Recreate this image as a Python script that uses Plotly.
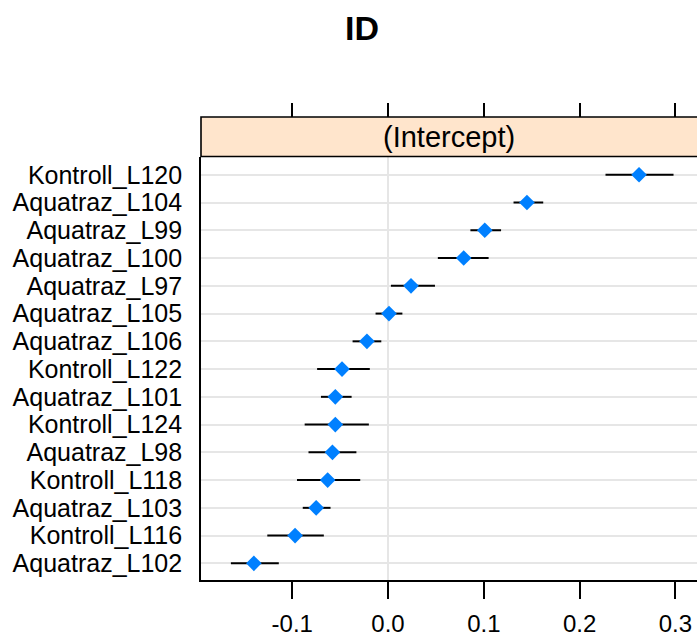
import plotly.graph_objects as go

# Data (listed top -> bottom as drawn)
labels = ["Kontroll_L120", "Aquatraz_L104", "Aquatraz_L99", "Aquatraz_L100",
          "Aquatraz_L97", "Aquatraz_L105", "Aquatraz_L106", "Kontroll_L122",
          "Aquatraz_L101", "Kontroll_L124", "Aquatraz_L98", "Kontroll_L118",
          "Aquatraz_L103", "Kontroll_L116", "Aquatraz_L102"]
estimate = [0.262, 0.145, 0.101, 0.079, 0.024, 0.001, -0.022, -0.048,
            -0.055, -0.055, -0.058, -0.063, -0.075, -0.097, -0.140]
lower = [0.227, 0.131, 0.086, 0.052, 0.003, -0.013, -0.037, -0.074,
         -0.070, -0.087, -0.083, -0.095, -0.089, -0.126, -0.164]
upper = [0.298, 0.162, 0.118, 0.105, 0.049, 0.015, -0.007, -0.019,
         -0.038, -0.020, -0.033, -0.029, -0.060, -0.067, -0.114]
x_ticks = [-0.1, 0.0, 0.1, 0.2, 0.3]
x_tick_text = ["-0.1", "0.0", "0.1", "0.2", "0.3"]
strip_label = "(Intercept)"
title_text = "ID"

n = len(labels)
ypos = [n - i for i in range(n)]
err_plus = [u - e for u, e in zip(upper, estimate)]
err_minus = [e - l for e, l in zip(estimate, lower)]

FONT = "Liberation Sans, Arial, sans-serif"
W, H = 697, 636
left, right, top, bottom = 201, 0, 117, 56
plot_h = H - top - bottom
plot_w = W - left - right
panel_top_px = 156.5
dom_top = (H - bottom - panel_top_px) / plot_h

xr = [-0.1952, 0.3225]

fig = go.Figure()
fig.add_trace(go.Scatter(
    x=estimate, y=ypos, mode="markers",
    marker=dict(symbol="diamond", size=12, color="#0080FF", line=dict(width=0)),
    error_x=dict(type="data", symmetric=False, array=err_plus, arrayminus=err_minus,
                 color="black", thickness=2, width=0),
    hoverinfo="skip", showlegend=False, cliponaxis=False,
))
# invisible trace to instantiate the top axis
fig.add_trace(go.Scatter(x=estimate, y=ypos, xaxis="x2", mode="markers",
                         marker=dict(opacity=0), hoverinfo="skip", showlegend=False))

fig.update_layout(
    width=W, height=H,
    margin=dict(l=left, r=right, t=top, b=bottom, pad=0, autoexpand=False),
    paper_bgcolor="white", plot_bgcolor="white",
    font=dict(family=FONT, color="black"),
    xaxis=dict(range=xr, tickvals=x_ticks, ticktext=x_tick_text, ticks="outside",
               ticklen=17, tickwidth=1.6, tickcolor="black", showgrid=False,
               zeroline=True, zerolinecolor="#E6E6E6", zerolinewidth=2,
               showline=True, linecolor="black", linewidth=1.6, automargin=False,
               tickfont=dict(size=24, family=FONT, color="black"),
               ticklabelstandoff=4),
    xaxis2=dict(range=xr, tickvals=x_ticks, overlaying="x", anchor="free", position=1.0,
                side="top", ticks="outside", ticklen=14, tickwidth=1.6, tickcolor="black",
                showticklabels=False, showgrid=False, zeroline=False, showline=False,
                automargin=False),
    yaxis=dict(domain=[0, dom_top], range=[0.4, n + 0.66], tickvals=ypos, ticktext=labels,
               ticks="outside", ticklen=0, showgrid=True, gridcolor="#E6E6E6", gridwidth=2,
               zeroline=False, showline=True, linecolor="black", linewidth=1.6,
               automargin=False,
               tickfont=dict(size=25, family=FONT, color="black"),
               ticklabelstandoff=12),
    shapes=[dict(type="rect", xref="paper", yref="paper", x0=0, x1=1.02, y0=dom_top, y1=1.0,
                 fillcolor="#FFE5CC", line=dict(color="black", width=1.6), layer="above")],
    annotations=[
        dict(text=strip_label, xref="paper", yref="paper", x=0.5,
             y=(dom_top + 1) / 2, xanchor="center", yanchor="middle",
             showarrow=False, font=dict(size=29, family=FONT, color="black")),
        dict(text="<b>" + title_text + "</b>", xref="paper", yref="paper",
             x=(362 - left) / plot_w, y=1 + (top - 28) / plot_h,
             xanchor="center", yanchor="middle", showarrow=False,
             font=dict(size=34, family=FONT, color="black")),
    ],
)

fig.write_html(
    "out.html",
    config={"displayModeBar": False},
    post_script="document.body.style.margin='0';document.body.style.overflow='hidden';",
)
